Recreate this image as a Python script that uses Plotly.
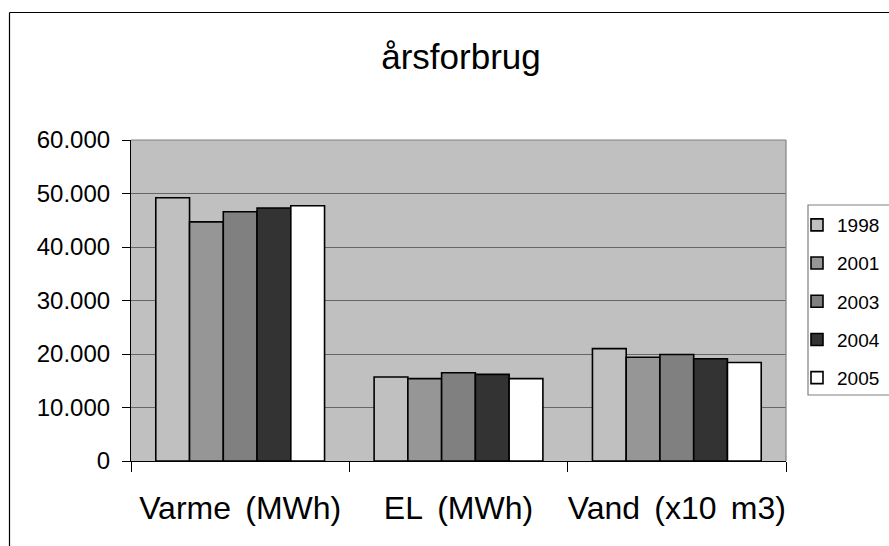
import plotly.graph_objects as go

categories = ["Varme\u00a0\u2006(MWh)", "EL\u00a0\u2006(MWh)", "Vand\u00a0\u2006(x10\u00a0\u2006m3)"]
years = ["1998", "2001", "2003", "2004", "2005"]
values_1998 = [49200, 15700, 21000]
values_2001 = [44700, 15400, 19400]
values_2003 = [46600, 16500, 19900]
values_2004 = [47300, 16200, 19100]
values_2005 = [47700, 15400, 18400]
series = [values_1998, values_2001, values_2003, values_2004, values_2005]
colors = ["#c0c0c0", "#969696", "#808080", "#333333", "#ffffff"]

FONT = "Liberation Sans, Arial, sans-serif"
W, H = 889, 546
L, R, T, B = 131, 103, 140, 85
PW, PH = W - L - R, H - T - B

def px_x(x):
    return (x - L) / PW

def px_y(y):
    return (H - B - y) / PH

fig = go.Figure()
for yr, vals, col in zip(years, series, colors):
    fig.add_trace(go.Bar(
        x=categories, y=vals, name=yr, legendgroup=yr,
        marker=dict(color=col, line=dict(color="#000000", width=1.6)),
    ))

shapes = [
    dict(type="line", xref="paper", yref="paper", x0=0, x1=1, y0=1, y1=1,
         line=dict(color="#808080", width=1.2)),
    dict(type="line", xref="paper", yref="paper", x0=1, x1=1, y0=0, y1=1,
         line=dict(color="#808080", width=1.2)),
    dict(type="line", xref="paper", yref="paper", x0=px_x(9.5), x1=px_x(9.5),
         y0=px_y(560), y1=px_y(12.5), line=dict(color="#000000", width=1.2)),
    dict(type="line", xref="paper", yref="paper", x0=px_x(9.5), x1=px_x(900),
         y0=px_y(12.5), y1=px_y(12.5), line=dict(color="#000000", width=1.2)),
    dict(type="rect", xref="paper", yref="paper", x0=px_x(808), x1=px_x(905),
         y0=px_y(395), y1=px_y(205), line=dict(color="#808080", width=1.2)),
]

fig.update_layout(
    width=W, height=H,
    margin=dict(l=L, r=R, t=T, b=B, autoexpand=False),
    paper_bgcolor="#ffffff",
    plot_bgcolor="#c0c0c0",
    separators=",.",
    font=dict(family=FONT, color="#000000"),
    title=dict(text="årsforbrug", font=dict(size=35, family=FONT),
               x=px_x(461), xref="paper", xanchor="center",
               y=1 - 57 / H, yref="container", yanchor="middle"),
    barmode="group", bargap=0.227, bargroupgap=0,
    showlegend=True,
    legend=dict(x=px_x(797), xanchor="left", y=px_y(206), yanchor="top",
                font=dict(size=19, family=FONT), bgcolor="rgba(0,0,0,0)",
                borderwidth=0, tracegroupgap=10.5, itemclick=False),
    shapes=shapes,
)
fig.update_xaxes(
    showgrid=False, showline=True, linecolor="#000000", linewidth=1.2,
    ticks="outside", tickson="boundaries", ticklen=10, tickcolor="#000000",
    tickwidth=1.2, tickfont=dict(size=32, family=FONT), ticklabelstandoff=18,
    tickangle=0,
)
fig.update_yaxes(
    range=[0, 60000], dtick=10000, tickformat=",d",
    showgrid=True, gridcolor="#666666", gridwidth=1.3,
    showline=True, linecolor="#000000", linewidth=1.2,
    ticks="outside", ticklen=8, tickcolor="#000000", tickwidth=1.2,
    tickfont=dict(size=24, family=FONT), ticklabelstandoff=7,
    zeroline=False,
)

fig.write_html("out.html", config={"displayModeBar": False},
               post_script="document.body.style.margin='0';")
